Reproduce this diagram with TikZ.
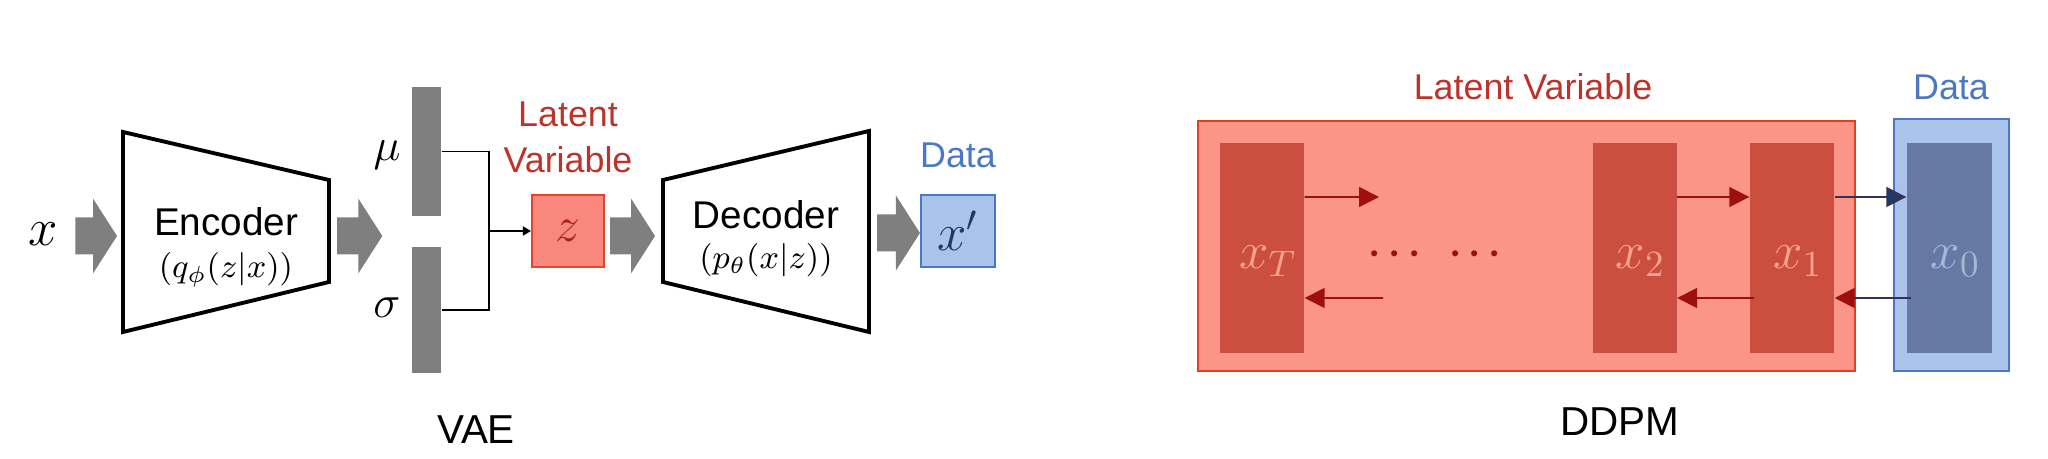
\RequirePackage{fix-cm}
\documentclass[tikz,border=0pt]{standalone}
\usepackage{fontspec}
\setmainfont{Liberation Sans}
\usetikzlibrary{arrows.meta,positioning,calc}
\definecolor{arrowgray}{HTML}{7F7F7F}
\definecolor{latentred}{HTML}{BC3329}
\definecolor{zfill}{HTML}{F8877C}
\definecolor{zdraw}{HTML}{E5452F}
\definecolor{zletter}{HTML}{A3201C}
\definecolor{datablue}{HTML}{4A78C2}
\definecolor{datafill}{HTML}{A9C3EA}
\definecolor{darknavy}{HTML}{1F3864}
\definecolor{boxred}{HTML}{FA9587}
\definecolor{boxredline}{HTML}{E33E1E}
\definecolor{blockred}{HTML}{CC4E3E}
\definecolor{blocktext}{HTML}{F6A393}
\definecolor{arrowred}{HTML}{9E1010}
\definecolor{blockblue}{HTML}{6679A5}
\definecolor{bluetext}{HTML}{A7B7D6}

\tikzset{
  fatarrow/.style={fill=arrowgray, to path={
    let \p1=(\tikztostart), \p2=(\tikztotarget) in
    (\x1,{\y1+1.85mm}) -- ({\x2-2.4mm},{\y1+1.85mm}) -- ({\x2-2.4mm},{\y1+3.75mm})
    -- (\x2,\y1) -- ({\x2-2.4mm},{\y1-3.75mm}) -- ({\x2-2.4mm},{\y1-1.85mm})
    -- (\x1,{\y1-1.85mm}) -- cycle}},
  trap/.style={line width=1.1pt, line join=miter},
  bar/.style={fill=arrowgray, minimum width=2.9mm, inner sep=0pt},
  joinline/.style={line width=0.5pt, -{Triangle[length=0.8mm, width=0.9mm]}},
  boxtext/.style={font=\fontsize{11}{13}\selectfont, inner sep=0pt},
  subtext/.style={font=\fontsize{9.5}{11}\selectfont, inner sep=0pt},
  bigmath/.style={font=\fontsize{15}{18}\selectfont, inner sep=0.5mm},
  caption/.style={font=\fontsize{10.2}{12.5}\selectfont, align=center, inner sep=0pt},
  redblock/.style={fill=blockred, minimum width=8.4mm, minimum height=21mm, inner sep=0pt},
  chain/.style={line width=0.5pt, arrowred, -{Triangle[length=2mm, width=2mm]}},
}

\begin{document}
\begin{tikzpicture}[x=0.1mm, y=-0.1mm]
  \useasboundingbox (0,0) rectangle (2048,459);

  % ---------- VAE ----------
  % Encoder
  \coordinate (encNW) at (123,132);
  \coordinate (encSW) at (123,332);
  \coordinate (encNE) at (329,180);
  \coordinate (encSE) at (329,282);
  \coordinate (encW) at (123,236);
  \coordinate (encE) at (329,236);
  \draw[trap] (encNW) -- (encNE) -- (encSE) -- (encSW) -- cycle;
  \node[boxtext] (enc) at (226,222) {Encoder};
  \node[subtext] (encsub) at (226,270) {$(q_\phi(z|x))$};

  \node[bigmath] (xin) at (43,234) {$x$};
  \path[fatarrow] ([xshift=1.2mm]xin.east |- encW) to ([xshift=-0.6mm]encW);

  % mu / sigma
  \node[bar, minimum height=12.9mm] (mubar) at (426.5,151.5) {};
  \node[bar, minimum height=12.6mm] (sigmabar) at (426.5,310) {};
  \node[font=\fontsize{13}{15}\selectfont, inner sep=0pt] (mu) at (387,155) {$\mu$};
  \node[font=\fontsize{13}{15}\selectfont, inner sep=0pt] (sigma) at (387,308) {$\sigma$};
  \path[fatarrow] ([xshift=0.8mm]encE) to ([xshift=-2.9mm]mubar.west |- encE);

  % latent z
  \node[fill=zfill, draw=zdraw, line width=0.6pt, minimum size=7.2mm, inner sep=0pt,
        font=\fontsize{14}{16}\selectfont, text=zletter] (zbox) at (568,231) {$z$};
  \node[caption, text=latentred] (zlab) at (568,137) {Latent\\[0.2mm]Variable};
  \coordinate (join) at (489,231);
  \draw[line width=0.5pt] (mubar.east) -| (join) |- (sigmabar.east);
  \draw[joinline] (join) -- (zbox.west);

  % Decoder
  \coordinate (decNW) at (663,180);
  \coordinate (decSW) at (663,282);
  \coordinate (decNE) at (869,131);
  \coordinate (decSE) at (869,332);
  \coordinate (decW) at (663,236);
  \coordinate (decE) at (869,233);
  \draw[trap] (decNW) -- (decNE) -- (decSE) -- (decSW) -- cycle;
  \node[boxtext] (dec) at (766,215) {Decoder};
  \node[subtext] (decsub) at (766,260) {$(p_\theta(x|z))$};
  \path[fatarrow] ([xshift=0.5mm]zbox.east |- decW) to ([xshift=-0.8mm]decW);

  % output
  \node[fill=datafill, draw=datablue, line width=0.6pt, minimum width=7.4mm, minimum height=7.2mm,
        inner sep=0pt, font=\fontsize{15}{18}\selectfont, text=darknavy] (xout) at (958,231) {$x'$};
  \node[caption, text=datablue] (xoutlab) at (958,155) {Data};
  \path[fatarrow] ([xshift=0.8mm]decE) to (xout.west |- decE);

  \node[font=\fontsize{11.5}{14}\selectfont] (vae) at (476,430) {VAE};

  % ---------- DDPM ----------
  \node[fill=boxred, draw=boxredline, line width=0.7pt, minimum width=65.7mm, minimum height=25mm,
        inner sep=0pt] (latbox) at (1526.5,246) {};
  \node[fill=datafill, draw=datablue, line width=0.7pt, minimum width=11.5mm, minimum height=25.2mm,
        inner sep=0pt] (databox) at (1951.5,245) {};
  \node[caption, text=latentred] (latlab) at (1533,87) {Latent Variable};
  \node[caption, text=datablue] (datalab) at (1951,87) {Data};

  \foreach \nm/\cx/\lab in {xT/1262/x_T, xtwo/1634.5/x_2, xone/1792/x_1} {
    \node[redblock] (\nm) at (\cx,248) {};
    \node[bigmath, text=blocktext] (\nm lab) at ([xshift=0.6mm, yshift=-1.3mm]\nm.center) {$\lab$};
  }
  \node[redblock, fill=blockblue, minimum width=8.5mm] (xzero) at (1949.5,248) {};
  \node[bigmath, text=bluetext] (xzerolab) at ([xshift=0.6mm, yshift=-1.3mm]xzero.center) {$x_0$};

  \node[font=\fontsize{11}{13}\selectfont\boldmath, text=arrowred, inner sep=0pt] (dots) at (1435,254) {$\cdots\hspace{6pt}\cdots$};

  % forward / reverse steps
  \coordinate (fwdend) at (1379,197);
  \coordinate (bwdstart) at (1383,298);
  \draw[chain] ([yshift=5.1mm]xT.east) -- (fwdend);
  \draw[chain] (bwdstart) -- ([yshift=-5mm]xT.east);
  \draw[chain] ([yshift=5.1mm]xtwo.east) -- ([yshift=5.1mm]xone.west);
  \draw[chain] ([xshift=0.5mm, yshift=-5mm]xone.west) -- ([yshift=-5mm]xtwo.east);
  \draw[chain, darknavy!80!arrowred, -{Triangle[length=2mm, width=2mm, fill=darknavy]}]
    ([yshift=5.1mm]xone.east) -- ([yshift=5.1mm]xzero.west);
  \draw[chain, darknavy!80!arrowred, -{Triangle[length=2mm, width=2mm, fill=arrowred, color=arrowred]}]
    ([xshift=0.5mm, yshift=-5mm]xzero.west) -- ([yshift=-5mm]xone.east);

  \node[font=\fontsize{11.5}{14}\selectfont] (ddpm) at (1620,422) {DDPM};
\end{tikzpicture}
\end{document}
